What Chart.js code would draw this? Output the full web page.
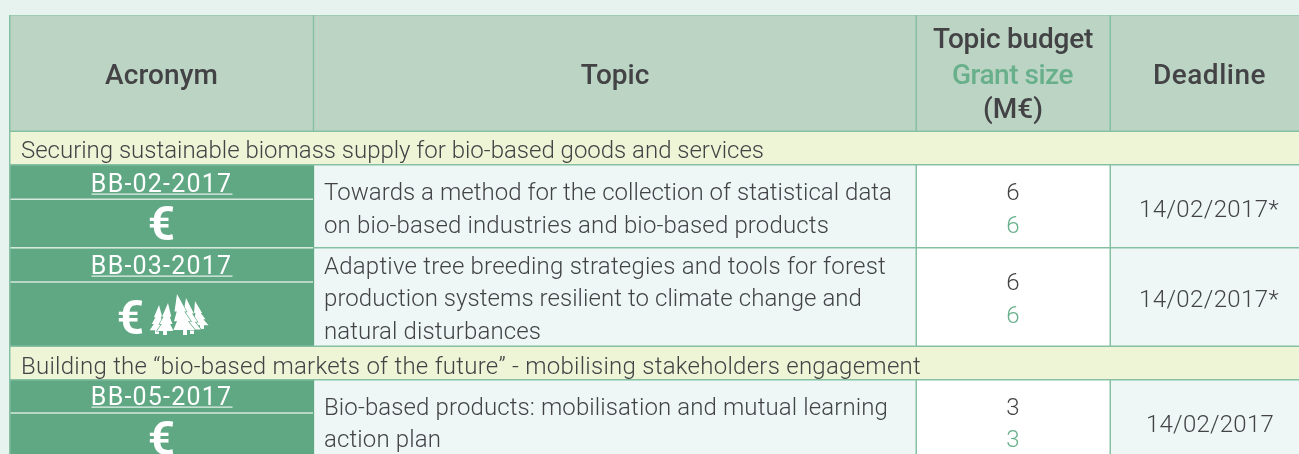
<!DOCTYPE html>
<html>
<head>
<meta charset="utf-8">
<style>
  html, body { margin: 0; padding: 0; background: #e6f3ef; overflow: hidden; }
  canvas { display: block; }
</style>
<script src="https://cdn.jsdelivr.net/npm/chart.js@4"></script>
</head>
<body>
<canvas id="table" width="1299" height="454"></canvas>
<script>
// table content
var headers = ['Acronym', 'Topic', 'Deadline'];
var budgetHeader = ['Topic budget', 'Grant size', '(M€)'];
var sections = [
  'Securing sustainable biomass supply for bio-based goods and services',
  'Building the “bio-based markets of the future” - mobilising stakeholders engagement'
];
var acronyms = ['BB-02-2017', 'BB-03-2017', 'BB-05-2017'];
var topics = [
  ['Towards a method for the collection of statistical data', 'on bio-based industries and bio-based products'],
  ['Adaptive tree breeding strategies and tools for forest', 'production systems resilient to climate change and', 'natural disturbances'],
  ['Bio-based products: mobilisation and mutual learning', 'action plan']
];
var budgets = [6, 6, 3];
var grants = [6, 6, 3];
var deadlines = ['14/02/2017*', '14/02/2017*', '14/02/2017'];

// layout, in page pixels: the two linear scales run 1:1 with the canvas
var colLeft = [10.5, 314.2, 917, 1111];
var colRight = [312.8, 915.5, 1109.5, 1299];
var headerBand = [15.5, 130.5];
var sectionBands = [[132, 164], [347, 379]];
var rowBands = [[165.5, 247], [248.5, 345.5], [380.5, 454]];
var rowSplit = [199.2, 282, 413];
var rowLines = [[200, 233], [274, 306, 339], [415, 447]];
var topicEnds = [[892, 829], [886, 862, 541], [888, 441]];
var sectionLines = [158, 374];
var sectionEnds = [764, 921];
var budgetLines = [[200, 233], [290, 323], [415, 447]];
var deadlineLines = [217, 307, 432];
var deadlineWidths = [140, 140, 128];
var acronymLines = [192, 274, 405];
var euroLines = [240, 334, 455];
// tip x, tip y, height, lean of the foot; the middle tree goes last, on top
var trees = [[159, 305, 28, -2], [195, 301, 27, 7], [168, 303, 31, -3], [186, 298, 35, 6], [177, 294, 40, 8]];

var ink = '#434346', green = '#68b08b', line = '#86c0a3', leaf = '#5fa883';

function band(label, range, cells, color) {
  return {
    label: label,
    data: cells.map(function (c) { return { x: c, y: (range[0] + range[1]) / 2 }; }),
    backgroundColor: color,
    barThickness: range[1] - range[0],
    inflateAmount: 0,
    borderWidth: 0
  };
}

var datasets = [];
datasets.push(band('grid', [15, 454], [[9, 1299]], line));
datasets.push(band('header', headerBand, colLeft.map(function (l, i) { return [l, colRight[i]]; }), '#bcd4c4'));
sectionBands.forEach(function (r, i) {
  datasets.push(band('section' + i, r, [[colLeft[0], 1299]], '#eef4d6'));
});
rowBands.forEach(function (r, i) {
  datasets.push(band('acronym' + i, r, [[colLeft[0], 314]], leaf));
  datasets.push(band('topic' + i, r, [[colLeft[1], colRight[1]], [colLeft[3], colRight[3]]], '#eef7f6'));
  datasets.push(band('budget' + i, r, [[colLeft[2], colRight[2]]], '#ffffff'));
  datasets.push(band('split' + i, [rowSplit[i] - 0.8, rowSplit[i] + 0.8], [[colLeft[0], 313]], '#d5e9dd'));
  datasets.push(band('link' + i, [acronymLines[i] + 1.5, acronymLines[i] + 2.7], [[91.5, 232.5]], '#e4f1ea'));
});
datasets.push(band('rowEdge', [247, 248.5], [[colLeft[0], 313]], '#d5e9dd'));
// chart.js paints the first dataset last
datasets.reverse();

function text(chart, str, x, y, font, color, align, spacing) {
  var c = chart.ctx;
  c.font = font;
  c.fillStyle = color;
  c.textAlign = align || 'center';
  c.textBaseline = 'alphabetic';
  c.letterSpacing = (spacing || 0) + 'px';
  c.fillText(str, chart.scales.x.getPixelForValue(x), chart.scales.y.getPixelForValue(y));
  c.letterSpacing = '0px';
}

// letter spacing that makes a line as wide as it is in the reference
function fit(chart, str, font, width) {
  chart.ctx.font = font;
  return (width - chart.ctx.measureText(str).width) / str.length;
}

function tree(chart, t) {
  var c = chart.ctx, px = chart.scales.x, py = chart.scales.y;
  var x = t[0], y = t[1], h = t[2], dx = t[3];
  var tiers = [[0, 0.44, 0.15], [0.24, 0.68, 0.21], [0.46, 0.9, 0.27]];
  c.beginPath();
  tiers.forEach(function (s) {
    var cx = x + dx * s[0], ex = x + dx * s[1];
    c.moveTo(px.getPixelForValue(cx), py.getPixelForValue(y + h * s[0]));
    c.lineTo(px.getPixelForValue(ex + h * s[2]), py.getPixelForValue(y + h * s[1]));
    c.lineTo(px.getPixelForValue(ex - h * s[2]), py.getPixelForValue(y + h * s[1]));
    c.closePath();
  });
  c.rect(px.getPixelForValue(x + dx - 2), py.getPixelForValue(y + h * 0.88), 4, h * 0.12 + 1);
  c.strokeStyle = leaf;
  c.lineWidth = 1.2;
  c.stroke();
  c.fillStyle = '#ffffff';
  c.fill();
}

var tableText = {
  id: 'tableText',
  afterDatasetsDraw: function (chart) {
    var head = '500 28px Roboto', body = '300 24px Roboto', euro = '600 48px Roboto';
    text(chart, headers[0], 161.5, 84, head, ink, 'center', fit(chart, headers[0], head, 113));
    text(chart, headers[1], 615, 84, head, ink);
    text(chart, headers[2], 1209.5, 84, head, ink, 'center', fit(chart, headers[2], head, 113));
    text(chart, budgetHeader[0], 1013, 48, head, ink, 'center', fit(chart, budgetHeader[0], head, 160));
    text(chart, budgetHeader[1], 1012.5, 84, head, green, 'center', fit(chart, budgetHeader[1], head, 121));
    text(chart, budgetHeader[2], 1013, 118, head, ink);

    sections.forEach(function (s, i) {
      text(chart, s, 21, sectionLines[i], body, ink, 'left', fit(chart, s, body, sectionEnds[i] - 21));
    });

    trees.forEach(function (t) { tree(chart, t); });
    acronyms.forEach(function (a, i) {
      text(chart, a, 161.5, acronymLines[i], '400 25px Roboto', '#ffffff', 'center', 1.2);
      text(chart, '€', i == 1 ? 130.5 : 161.5, euroLines[i], euro, '#ffffff');
      topics[i].forEach(function (t, j) {
        text(chart, t, 324, rowLines[i][j], body, ink, 'left', fit(chart, t, body, topicEnds[i][j] - 324));
      });
      text(chart, String(budgets[i]), 1013, budgetLines[i][0], body, ink);
      text(chart, String(grants[i]), 1013, budgetLines[i][1], body, green);
      text(chart, deadlines[i], i == 2 ? 1210 : 1209, deadlineLines[i], body, ink, 'center', fit(chart, deadlines[i], body, deadlineWidths[i]));
    });
  }
};

new Chart(document.getElementById('table').getContext('2d'), {
  type: 'bar',
  data: { datasets: datasets },
  plugins: [tableText],
  options: {
    indexAxis: 'y',
    responsive: false,
    animation: false,
    events: [],
    layout: { padding: 0 },
    plugins: { legend: { display: false }, tooltip: { enabled: false } },
    datasets: { bar: { grouped: false } },
    scales: {
      x: { type: 'linear', display: false, offset: false, min: 0, max: 1299 },
      y: { type: 'linear', display: false, offset: false, min: 0, max: 454, reverse: true }
    }
  }
});
</script>
</body>
</html>
